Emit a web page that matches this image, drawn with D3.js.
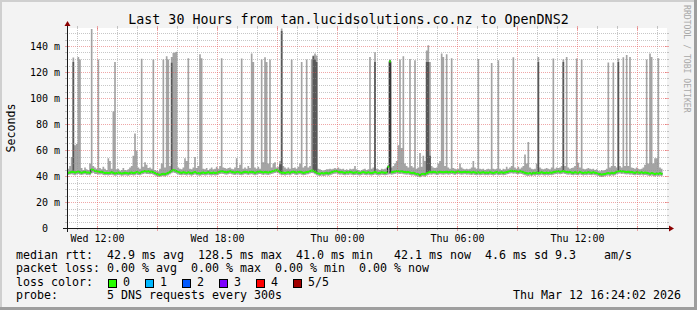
<!DOCTYPE html>
<html><head><meta charset="utf-8">
<script src="https://cdn.jsdelivr.net/npm/d3@7/dist/d3.min.js"></script>
<style>
html,body{margin:0;padding:0;background:#f3f3f3;}
svg{display:block;}
text{font-family:"DejaVu Sans Mono",monospace;}
</style>
</head><body>
<svg id="chart" width="697" height="310"></svg>
<script>
// ---------------- DATA ----------------
const chartTitle = "Last 30 Hours from tan.lucidsolutions.co.nz to OpenDNS2";
const yAxisTitle = "Seconds";
const watermark = "RRDTOOL / TOBI OETIKER";
const startTime = "2026-03-11T10:30:00";
const endTime = "2026-03-12T16:30:00";
const stepMinutes = 5;

const yTickValues = [0, 20, 40, 60, 80, 100, 120, 140];
const yTickLabels = ["  0  ", " 20 m", " 40 m", " 60 m", " 80 m", "100 m", "120 m", "140 m"];
const xTickTimes = ["2026-03-11T12:00:00", "2026-03-11T18:00:00", "2026-03-12T00:00:00", "2026-03-12T06:00:00", "2026-03-12T12:00:00"];
const xTickLabels = ["Wed 12:00", "Wed 18:00", "Thu 00:00", "Thu 06:00", "Thu 12:00"];

// median rtt (ms), one value per 5 minute step
const pingMedian = [
 42.8,43.1,43.6,43.4,43.0,43.5,43.8,43.2,42.9,43.3,43.6,43.1,
 43.0,42.8,45.4,45.0,44.3,44.0,43.8,43.4,43.6,43.1,42.7,42.9,
 42.6,42.9,43.3,42.8,42.4,42.6,43.0,42.7,42.3,42.5,42.9,42.6,
 42.4,42.8,43.1,42.6,42.9,43.4,43.0,42.7,43.5,43.9,44.2,43.8,
 44.0,43.6,43.9,43.2,42.6,42.0,41.6,41.4,41.8,42.1,41.7,42.3,
 42.9,43.6,44.5,45.0,44.7,44.1,43.5,43.0,42.8,43.2,43.0,42.7,
 43.2,42.8,42.5,43.0,43.4,42.9,42.6,42.4,42.8,43.1,42.7,42.9,
 43.3,42.8,42.6,43.0,42.7,42.9,43.3,43.8,44.1,43.9,43.5,43.2,
 43.6,44.0,43.7,43.2,43.0,43.4,43.5,43.1,42.9,43.3,43.6,43.4,
 43.0,43.4,43.7,43.3,42.9,43.2,43.6,43.8,43.4,43.1,43.5,43.3,
 43.1,43.4,43.8,44.2,44.6,44.9,44.4,43.5,42.9,43.0,42.7,43.1,
 43.3,42.9,43.5,43.8,43.2,43.0,43.4,43.7,43.3,42.8,43.0,43.5,
 43.7,44.2,44.6,44.4,43.6,42.9,42.4,42.2,42.6,42.3,42.5,42.8,
 42.4,42.9,43.3,43.8,44.0,44.3,43.7,43.2,43.4,43.0,42.8,43.3,
 43.1,43.5,43.2,42.8,43.0,43.3,42.9,42.6,43.1,43.4,43.0,42.8,
 43.2,42.9,42.6,43.0,43.4,43.1,42.7,42.9,43.3,43.0,42.8,43.1,
 47.5,128.5,43.3,43.6,43.9,44.2,44.0,43.8,44.1,43.7,43.5,43.2,
 43.4,43.0,42.6,42.9,42.4,42.0,41.7,41.0,41.9,42.2,41.8,42.5,
 43.1,43.5,43.2,43.6,43.4,43.0,43.3,43.7,43.5,43.2,43.4,43.6,
 43.3,43.5,43.8,43.4,43.1,43.6,43.9,43.5,43.2,43.4,43.7,43.3,
 43.5,43.2,43.0,43.4,43.1,42.8,43.2,42.9,43.1,43.3,42.9,43.0,
 42.8,43.2,43.0,42.7,43.1,43.4,42.9,43.0,43.2,42.8,43.1,43.4,
 43.8,44.2,44.4,44.0,44.3,43.9,43.6,44.1,43.8,43.3,42.9,42.5,
 42.3,42.6,42.2,42.8,42.5,43.0,42.7,42.9,43.2,42.8,42.6,43.0,
 42.7,43.1,42.9,43.3,43.6,43.9,44.1,43.7,43.9,44.2,43.8,43.5,
 43.2,43.5,43.0,42.8,43.3,43.1,42.9,43.4,43.0,42.7,43.1,42.9,
 43.3,43.0,42.8,43.2,42.9,42.6,42.2,41.8,41.5,41.7,42.0,42.4,
 42.6,42.3,42.8,42.5,42.9,43.6,44.0,44.2,43.8,44.1,43.7,43.4,
 43.6,43.2,43.5,43.0,42.8,43.3,43.1,42.9,43.2,42.7,43.0,42.8,
 42.5,42.2,42.6,42.3,41.9,42.4,42.1,42.5,42.1
];
// fastest of the 5 pings (ms)
const pingMin = [
 41.2,41.5,41.8,41.3,41.0,41.6,41.9,41.4,41.1,41.5,41.8,41.2,
 41.3,41.0,42.4,42.8,42.0,41.9,41.6,41.5,41.7,41.2,40.9,41.1,
 40.8,41.1,41.4,41.0,40.6,40.8,41.2,40.9,40.5,40.7,41.0,40.8,
 40.6,40.9,41.2,40.8,41.0,41.5,41.1,40.9,41.6,42.0,42.3,41.9,
 42.0,41.7,42.0,41.3,40.8,40.2,39.9,39.8,40.1,40.4,40.0,40.6,
 41.0,41.7,42.5,43.0,42.7,42.2,41.6,41.1,40.9,41.3,41.1,40.8,
 41.3,40.9,40.6,41.1,41.5,41.0,40.7,40.5,40.9,41.2,40.8,41.0,
 41.4,40.9,40.7,41.1,40.8,41.0,41.4,41.9,42.2,42.0,41.6,41.3,
 41.7,42.1,41.8,41.3,41.1,41.5,41.6,41.2,41.0,41.4,41.7,41.5,
 41.1,41.5,41.8,41.4,41.0,41.3,41.7,41.9,41.5,41.2,41.6,41.4,
 41.2,41.5,41.9,42.3,42.7,43.0,42.5,41.6,41.0,41.1,40.8,41.2,
 41.4,41.0,41.6,41.9,41.3,41.1,41.5,41.8,41.4,40.9,41.1,41.6,
 41.8,42.3,42.7,42.5,41.7,41.0,40.5,40.3,40.7,40.4,40.6,40.9,
 40.5,41.0,41.4,41.9,42.1,42.4,41.8,41.3,41.5,41.1,40.9,41.4,
 41.2,41.6,41.3,40.9,41.1,41.4,41.0,40.7,41.2,41.5,41.1,40.9,
 41.3,41.0,40.7,41.1,41.5,41.2,40.8,41.0,41.4,41.1,40.9,41.2,
 41.5,41.8,41.4,41.7,42.0,42.3,42.1,41.9,42.2,41.8,41.6,41.3,
 41.5,41.1,40.7,41.0,40.5,40.1,39.8,39.5,40.0,40.3,39.9,40.6,
 41.2,41.6,41.3,41.7,41.5,41.1,41.4,41.8,41.6,41.3,41.5,41.7,
 41.4,41.6,41.9,41.5,41.2,41.7,42.0,41.6,41.3,41.5,41.8,41.4,
 41.6,41.3,41.1,41.5,41.2,40.9,41.3,41.0,41.2,41.4,41.0,41.1,
 40.9,41.3,41.1,40.8,41.2,41.5,41.0,41.1,41.3,40.9,41.2,41.5,
 41.9,42.3,42.5,42.1,42.4,42.0,41.7,42.2,41.9,41.4,41.0,40.6,
 40.4,40.7,40.3,40.9,40.6,41.1,40.8,41.0,41.3,40.9,40.7,41.1,
 40.8,41.2,41.0,41.4,41.7,42.0,42.2,41.8,42.0,42.3,41.9,41.6,
 41.3,41.6,41.1,40.9,41.4,41.2,41.0,41.5,41.1,40.8,41.2,41.0,
 41.4,41.1,40.9,41.3,41.0,40.7,40.3,39.9,39.6,39.8,40.1,40.5,
 40.7,40.4,40.9,40.6,41.0,41.7,42.1,42.3,41.9,42.2,41.8,41.5,
 41.7,41.3,41.6,41.1,40.9,41.4,41.2,41.0,41.3,40.8,41.1,40.9,
 40.6,40.3,40.7,40.4,40.0,40.5,40.2,40.6,40.2
];
// slowest of the 5 pings (ms)
const pingMax = [
 46,48,55,131.5,64,65,132,130,46.5,45,47,45.5,
 45,50,153.5,48,47,46,130,46.5,45.5,47.5,46,45,
 54,52,46,90,128,45.5,46,44.5,45,46.5,45,44.8,
 45.5,47,48,56,73,60,47,46,130.5,47.5,51,49,
 46.5,47,46,130,45,44.5,44,46,50,130,47,132.5,
 130,48,131.9,135,135.3,136,47,46,45.5,47,54,52,
 131,46,45.5,47,55,46.5,48,134,131,46,45.5,46.5,
 45,46,47,45.5,46,47.5,46,48,131,47,46.5,46,
 46.5,47,46,45.5,47,54,46.5,49,130.7,46,47,46,
 48,46.5,134.6,128,47,46,47.5,46,130,51,131.8,128,
 50,130,47,50,51,47,47.5,52,154,48,47,46,
 47,46,130,46.5,47,46,47.5,50,128,47,48,130,
 47,48,130,133,134.6,133,46,45.5,45,44.5,45,45.5,
 45.5,46,45.5,46,46.5,46,47,46,45.5,46,45,45.5,
 45,46,45.5,46,48,45.5,45,44.5,45,45.5,46,45,
 45.5,132,46,47,135.5,46,45.5,45,46,45.5,46,47,
 48.7,130,47,48,50,52,64,130,62,132.5,50,48,
 47,130.3,48,47,129.5,46,47,58,47.5,56,52,137,
 141,128,48,47,46.5,47,50,52,134.6,132,48,134,
 47,46,131,46.5,46,45.5,46,50,47,46,45.5,46,
 45.5,46,47,52,47,46,130.3,46,45.5,46,45,45.5,
 46,45.5,127.4,46,45.5,46,129.5,46,45,46,45.5,47.5,
 46,47,48,131.8,47,46,47.5,46,47,48,57,50,
 66.6,47,46,45.5,46,50,132,47,46,45.5,46,46.5,
 46,45.5,47,130.7,46,47,46.5,47,48,130,48,132,
 47,46,46.5,47,48,130.7,50.5,47,130,46,45.5,46,
 46.5,46,45.5,46,45,45.5,44.5,44,45,44.5,45,46,
 127.6,47,48,127.6,48,47,130.7,48,47,131.8,48,133.5,
 48,132,47,46.5,46,47,46,45.5,46,47,49,130,
 50,134.6,132,50,54,54,131,47,46
];
// 4th ping where it stands clear of the median: [step, ms]
const pingFourth = [[3,128],[62,127.5],[127,49.5],[128,152],[147,132.5],[148,130],[149,128],
  [184,128],[193,129.5],[215,128],[216,128],[217,56],[282,128],[297,128],[330,128]];
// 2nd ping where it stands clear of the median: [step, ms]
const pingSecond = [[193,42.5]];

const rttStatValues = ["42.9", "128.5", "41.0", "42.1", "4.6", "9.3"];
const lossStatValues = ["0.00", "0.00", "0.00", "0.00"];
const lossLevels = ["0", "1", "2", "3", "4", "5/5"];
const lossColors = ["#26ff00", "#00b8ff", "#0059ff", "#7e00ff", "#ff0000", "#a10000"];
const probeText = "5 DNS requests every 300s";
const stampText = "Thu Mar 12 16:24:02 2026";

// ---------------- DRAW ----------------
const W = 697, H = 310;
const X0 = 67, X1 = 667, Y0 = 228, Y1 = 28;
const svg = d3.select("#chart");

const x = d3.scaleTime().domain([new Date(startTime), new Date(endTime)]).range([X0 + 0.5, X1 + 0.5]);
const yMax = 200 / 1.3;
const y = d3.scaleLinear().domain([0, yMax]).range([Y0 + 0.5, Y1 + 0.5]);

// background + 3d border
svg.append("rect").attr("width", W).attr("height", H).attr("fill", "#f3f3f3");
svg.append("path").attr("d", `M0,0H${W}V2H2V${H}H0Z`).attr("fill", "#cfcfcf");
svg.append("path").attr("d", `M${W},${H}H0V${H-3}H${W-3}V0H${W}Z`).attr("fill", "#9e9e9e");

// canvas
svg.append("rect").attr("x", X0).attr("y", Y1).attr("width", X1 - X0).attr("height", Y0 - Y1).attr("fill", "#ffffff");

// data rows
const t0 = new Date(startTime).getTime();
const fourth = new Map(pingFourth);
const second = new Map(pingSecond);
const rows = pingMedian.map((m, i) => ({
  t: new Date(t0 + i * stepMinutes * 60000),
  p1: pingMin[i],
  p2: second.has(i) ? second.get(i) : m,
  p3: m,
  p4: fourth.has(i) ? fourth.get(i) : m,
  p5: pingMax[i]
}));
const last = rows[rows.length - 1];
rows.push(Object.assign({}, last, { t: new Date(t0 + rows.length * stepMinutes * 60000) }));

const clamp = v => Math.max(0, Math.min(yMax, v));
const g = svg.append("g");

// smoke: outer pair (1st..5th ping) light, inner pair (2nd..4th ping) dark
g.append("path").datum(rows).attr("fill", "#a4a4a4")
  .attr("d", d3.area().curve(d3.curveStepAfter).x(d => x(d.t)).y0(d => y(clamp(d.p1))).y1(d => y(clamp(d.p5))));
g.append("path").datum(rows).attr("fill", "#585858")
  .attr("d", d3.area().curve(d3.curveStepAfter).x(d => x(d.t)).y0(d => y(clamp(d.p2))).y1(d => y(clamp(d.p4))));

// median: thin dark line + loss-coloured band (loss 0 everywhere)
g.append("path").datum(rows).attr("fill", "none").attr("stroke", "#202020").attr("stroke-width", 1)
  .attr("d", d3.line().curve(d3.curveStepAfter).x(d => x(d.t)).y(d => y(d.p3)));
g.append("path").datum(rows).attr("fill", lossColors[0])
  .attr("d", d3.area().curve(d3.curveStepAfter).x(d => x(d.t)).y0(d => y(d.p3) + 1.0).y1(d => y(d.p3) - 1.0));

// grid
const gridMinor = "rgba(143,143,143,0.5)", gridMajor = "rgba(224,80,80,0.5)";
const snap = v => Math.round(v - 0.5) + 0.5;
const gg = svg.append("g").attr("shape-rendering", "crispEdges");
d3.range(5, yMax, 5).forEach(v => {
  const yy = snap(y(v));
  const major = v % 20 === 0;
  gg.append("line").attr("x1", X0).attr("x2", X1).attr("y1", yy).attr("y2", yy)
    .attr("stroke", major ? gridMajor : gridMinor).attr("stroke-dasharray", "1,1");
  if (major) {
    gg.append("line").attr("x1", X0 - 2).attr("x2", X0 + 2).attr("y1", yy).attr("y2", yy).attr("stroke", gridMajor);
    gg.append("line").attr("x1", X1 - 2).attr("x2", X1 + 2).attr("y1", yy).attr("y2", yy).attr("stroke", gridMajor);
  } else {
    gg.append("line").attr("x1", X0 - 2).attr("x2", X0).attr("y1", yy).attr("y2", yy).attr("stroke", gridMinor);
    gg.append("line").attr("x1", X1).attr("x2", X1 + 2).attr("y1", yy).attr("y2", yy).attr("stroke", gridMinor);
  }
});
d3.timeHour.range(new Date(startTime), new Date(endTime)).forEach(h => {
  const xx = snap(x(h));
  const major = h.getHours() % 3 === 0;
  gg.append("line").attr("x1", xx).attr("x2", xx).attr("y1", Y1).attr("y2", Y0)
    .attr("stroke", major ? gridMajor : gridMinor).attr("stroke-dasharray", "1,1");
  if (major) {
    gg.append("line").attr("x1", xx).attr("x2", xx).attr("y1", Y0 - 2).attr("y2", Y0 + 3).attr("stroke", gridMajor);
    gg.append("line").attr("x1", xx).attr("x2", xx).attr("y1", Y1 - 2).attr("y2", Y1 + 2).attr("stroke", gridMajor);
  } else {
    gg.append("line").attr("x1", xx).attr("x2", xx).attr("y1", Y0).attr("y2", Y0 + 2).attr("stroke", gridMinor);
    gg.append("line").attr("x1", xx).attr("x2", xx).attr("y1", Y1 - 2).attr("y2", Y1).attr("stroke", gridMinor);
  }
});

// axes + arrows
svg.append("line").attr("x1", X0 - 4).attr("x2", X1 + 4).attr("y1", Y0 + 0.5).attr("y2", Y0 + 0.5)
  .attr("stroke", "#1a1a1a").attr("shape-rendering", "crispEdges");
svg.append("line").attr("x1", X0 + 0.5).attr("x2", X0 + 0.5).attr("y1", Y0 + 4).attr("y2", Y1 - 4)
  .attr("stroke", "#1a1a1a").attr("shape-rendering", "crispEdges");
svg.append("path").attr("d", `M${X1+2},${Y0-2.5}L${X1+2},${Y0+3.5}L${X1+7},${Y0+0.5}Z`).attr("fill", "#8b0000");
svg.append("path").attr("d", `M${X0-2.5},${Y1-2}L${X0+3.5},${Y1-2}L${X0+0.5},${Y1-7}Z`).attr("fill", "#8b0000");

// monospace text placed column by column
function mono(str, x0, yb, fontSize, cw, fill) {
  const re = /\S+/g; let m;
  while ((m = re.exec(str)) !== null) {
    svg.append("text").attr("x", x0 + m.index * cw).attr("y", yb)
      .attr("font-size", fontSize).attr("fill", fill || "#000").text(m[0]);
  }
}

// y tick labels
const axFont = 10, axCw = 6.02;
yTickValues.forEach((v, i) => {
  const lab = yTickLabels[i];
  mono(lab, 60 - lab.length * axCw, snap(y(v)) + 3.5, axFont, axCw);
});
// x tick labels
xTickTimes.forEach((t, i) => {
  svg.append("text").attr("x", snap(x(new Date(t)))).attr("y", 241.5)
    .attr("text-anchor", "middle").attr("font-size", axFont).text(xTickLabels[i]);
});

// title
svg.append("text").attr("x", 348.5).attr("y", 24).attr("text-anchor", "middle")
  .attr("font-size", 13.3).text(chartTitle);
// vertical axis title
svg.append("text").attr("transform", "translate(15,128) rotate(-90)").attr("text-anchor", "middle")
  .attr("font-size", 11.6).text(yAxisTitle);
// watermark
svg.append("text").attr("transform", "translate(683.5,5) rotate(90)").attr("font-size", 8.15)
  .attr("fill", "#a8a8a8").text(watermark);

// legend
const lgFont = 11.63, cw = 7.0, lx = 16;
const r = rttStatValues;
mono(`median rtt:  ${r[0]} ms avg  ${r[1]} ms max  ${r[2]} ms min   ${r[3]} ms now  ${r[4]} ms sd ${r[5]}    am/s`, lx, 258.5, lgFont, cw);
const l = lossStatValues;
mono(`packet loss: ${l[0]} % avg  ${l[1]} % max  ${l[2]} % min  ${l[3]} % now`, lx, 272, lgFont, cw);
mono("loss color:", lx, 285.5, lgFont, cw);
lossLevels.forEach((lv, i) => {
  const bx = 108.5 + i * 37;
  svg.append("rect").attr("x", bx).attr("y", 279.5).attr("width", 8).attr("height", 8)
    .attr("fill", lossColors[i]).attr("stroke", "#000").attr("stroke-width", 1);
  svg.append("text").attr("x", bx + 14.5).attr("y", 285.5).attr("font-size", lgFont).text(lv);
});
mono("probe:       " + probeText, lx, 299, lgFont, cw);
svg.append("text").attr("x", 681).attr("y", 299).attr("text-anchor", "end").attr("font-size", lgFont).text(stampText);
</script>
</body></html>
